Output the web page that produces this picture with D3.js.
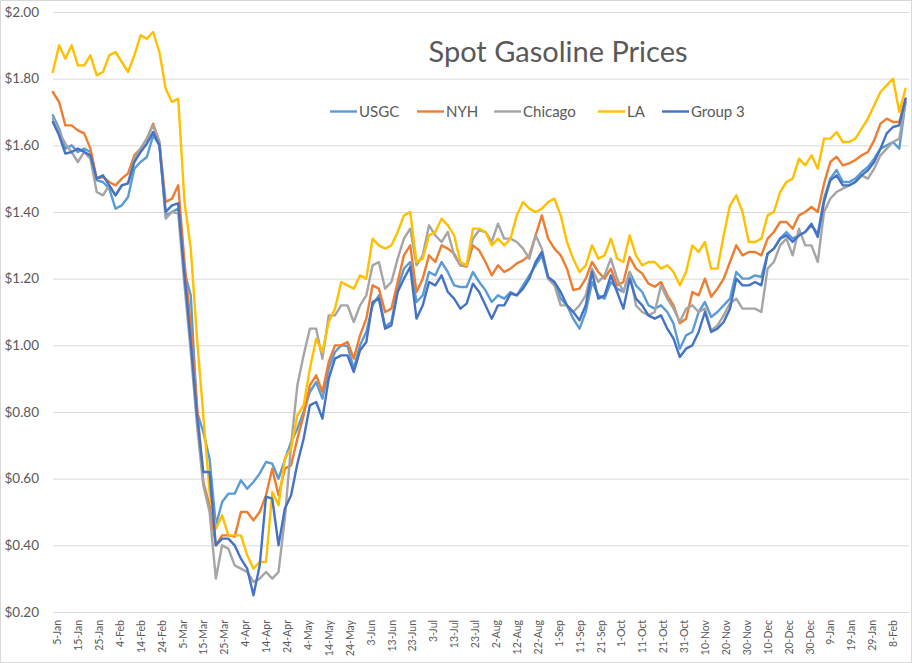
<!DOCTYPE html>
<html><head><meta charset="utf-8">
<script src="https://cdn.jsdelivr.net/npm/d3@7"></script>
<style>body{margin:0;background:#fff}svg{display:block}</style>
</head><body>
<svg id="chart" width="912" height="663"></svg>
<script>
const dates = [
"2020-01-03","2020-01-06","2020-01-09","2020-01-12","2020-01-15","2020-01-18","2020-01-21","2020-01-24","2020-01-27","2020-01-30",
"2020-02-02","2020-02-05","2020-02-08","2020-02-11","2020-02-14","2020-02-17","2020-02-20","2020-02-23","2020-02-26","2020-02-29",
"2020-03-03","2020-03-06","2020-03-09","2020-03-12","2020-03-15","2020-03-18","2020-03-21","2020-03-24","2020-03-27","2020-03-30",
"2020-04-02","2020-04-05","2020-04-08","2020-04-11","2020-04-14","2020-04-17","2020-04-20","2020-04-23","2020-04-26","2020-04-29",
"2020-05-02","2020-05-05","2020-05-08","2020-05-11","2020-05-14","2020-05-17","2020-05-20","2020-05-23","2020-05-26","2020-05-29",
"2020-06-01","2020-06-04","2020-06-07","2020-06-10","2020-06-13","2020-06-16","2020-06-19","2020-06-22","2020-06-25","2020-06-28",
"2020-07-01","2020-07-04","2020-07-07","2020-07-10","2020-07-13","2020-07-16","2020-07-19","2020-07-22","2020-07-25","2020-07-28",
"2020-07-31","2020-08-03","2020-08-06","2020-08-09","2020-08-12","2020-08-15","2020-08-18","2020-08-21","2020-08-24","2020-08-27",
"2020-08-30","2020-09-02","2020-09-05","2020-09-08","2020-09-11","2020-09-14","2020-09-17","2020-09-20","2020-09-23","2020-09-26",
"2020-09-29","2020-10-02","2020-10-05","2020-10-08","2020-10-11","2020-10-14","2020-10-17","2020-10-20","2020-10-23","2020-10-26",
"2020-10-29","2020-11-01","2020-11-04","2020-11-07","2020-11-10","2020-11-13","2020-11-16","2020-11-19","2020-11-22","2020-11-25",
"2020-11-28","2020-12-01","2020-12-04","2020-12-07","2020-12-10","2020-12-13","2020-12-16","2020-12-19","2020-12-22","2020-12-25",
"2020-12-28","2020-12-31","2021-01-03","2021-01-06","2021-01-09","2021-01-12","2021-01-15","2021-01-18","2021-01-21","2021-01-24",
"2021-01-27","2021-01-30","2021-02-02","2021-02-05","2021-02-08","2021-02-11","2021-02-14"];

const usgc = [
1.69,1.65,1.59,1.60,1.58,1.59,1.58,1.495,1.49,1.47,
1.41,1.42,1.445,1.53,1.55,1.565,1.63,1.60,1.39,1.40,
1.41,1.22,1.15,0.80,0.74,0.66,0.46,0.53,0.555,0.555,
0.595,0.57,0.59,0.616,0.65,0.645,0.60,0.656,0.71,0.75,
0.80,0.86,0.89,0.84,0.93,0.98,1.00,0.998,0.93,1.00,
1.04,1.12,1.15,1.056,1.07,1.17,1.23,1.25,1.13,1.15,
1.22,1.21,1.25,1.22,1.18,1.175,1.175,1.22,1.19,1.165,
1.13,1.15,1.14,1.16,1.15,1.18,1.21,1.24,1.27,1.20,
1.19,1.14,1.12,1.08,1.05,1.10,1.19,1.15,1.14,1.19,
1.17,1.16,1.22,1.18,1.16,1.12,1.11,1.12,1.10,1.065,
0.99,1.03,1.04,1.10,1.13,1.085,1.10,1.12,1.14,1.22,
1.20,1.20,1.21,1.205,1.275,1.29,1.32,1.34,1.32,1.33,
1.34,1.36,1.335,1.44,1.50,1.526,1.49,1.49,1.50,1.52,
1.535,1.56,1.59,1.60,1.61,1.59,1.73];

const nyh = [
1.76,1.73,1.66,1.66,1.645,1.636,1.59,1.50,1.505,1.49,
1.48,1.50,1.516,1.57,1.59,1.62,1.665,1.61,1.43,1.44,
1.48,1.25,1.06,0.82,0.59,0.52,0.40,0.43,0.43,0.426,
0.50,0.50,0.475,0.50,0.55,0.63,0.55,0.63,0.64,0.72,
0.79,0.88,0.91,0.86,0.95,1.00,1.00,1.01,0.96,1.03,
1.08,1.18,1.17,1.10,1.11,1.19,1.27,1.30,1.16,1.20,
1.27,1.25,1.30,1.29,1.275,1.24,1.236,1.30,1.285,1.25,
1.21,1.24,1.22,1.23,1.246,1.255,1.27,1.33,1.39,1.32,
1.29,1.27,1.23,1.166,1.17,1.20,1.25,1.22,1.20,1.23,
1.18,1.19,1.265,1.23,1.215,1.185,1.176,1.19,1.15,1.12,
1.066,1.08,1.16,1.15,1.20,1.146,1.17,1.20,1.25,1.30,
1.27,1.28,1.28,1.27,1.32,1.34,1.37,1.37,1.35,1.39,
1.40,1.415,1.40,1.485,1.55,1.566,1.54,1.546,1.556,1.57,
1.58,1.615,1.665,1.68,1.67,1.67,1.74];

const chicago = [
1.68,1.64,1.605,1.58,1.55,1.58,1.56,1.46,1.45,1.48,
1.45,1.48,1.486,1.56,1.59,1.62,1.66,1.61,1.38,1.40,
1.396,1.18,0.98,0.76,0.58,0.50,0.30,0.40,0.39,0.34,
0.33,0.32,0.29,0.30,0.32,0.30,0.32,0.48,0.70,0.88,
0.97,1.05,1.05,0.96,1.09,1.09,1.12,1.12,1.07,1.12,
1.15,1.24,1.25,1.17,1.19,1.26,1.32,1.35,1.24,1.27,
1.36,1.33,1.31,1.34,1.27,1.24,1.24,1.32,1.345,1.34,
1.31,1.365,1.32,1.32,1.31,1.29,1.26,1.33,1.29,1.20,
1.18,1.12,1.12,1.10,1.12,1.15,1.23,1.19,1.21,1.26,
1.20,1.16,1.22,1.12,1.10,1.09,1.10,1.18,1.14,1.11,
1.07,1.11,1.12,1.10,1.11,1.045,1.06,1.09,1.126,1.14,
1.11,1.11,1.11,1.10,1.23,1.25,1.30,1.32,1.27,1.35,
1.30,1.30,1.25,1.40,1.44,1.46,1.47,1.48,1.49,1.51,
1.50,1.53,1.57,1.59,1.61,1.62,1.73];

const la = [
1.82,1.90,1.86,1.90,1.84,1.84,1.87,1.81,1.82,1.87,
1.88,1.85,1.82,1.87,1.93,1.92,1.94,1.88,1.77,1.73,
1.74,1.43,1.29,1.02,0.79,0.56,0.45,0.49,0.43,0.43,
0.43,0.37,0.33,0.35,0.35,0.56,0.52,0.66,0.69,0.79,
0.82,0.93,1.02,0.98,1.07,1.11,1.19,1.18,1.17,1.21,
1.20,1.32,1.30,1.29,1.30,1.34,1.39,1.40,1.25,1.26,
1.33,1.34,1.38,1.36,1.33,1.25,1.24,1.35,1.35,1.34,
1.30,1.32,1.30,1.32,1.39,1.43,1.41,1.40,1.41,1.43,
1.44,1.39,1.31,1.26,1.22,1.24,1.30,1.26,1.27,1.32,
1.26,1.25,1.33,1.27,1.24,1.25,1.25,1.23,1.24,1.22,
1.18,1.22,1.30,1.28,1.31,1.23,1.23,1.33,1.42,1.45,
1.40,1.31,1.31,1.32,1.39,1.40,1.46,1.49,1.50,1.56,
1.54,1.57,1.53,1.62,1.62,1.64,1.61,1.61,1.62,1.65,
1.68,1.72,1.76,1.78,1.80,1.70,1.77];

const group3 = [
1.67,1.63,1.575,1.58,1.59,1.58,1.57,1.50,1.51,1.48,
1.45,1.48,1.486,1.55,1.58,1.605,1.64,1.60,1.40,1.42,
1.426,1.21,1.01,0.79,0.62,0.62,0.40,0.42,0.42,0.40,
0.36,0.33,0.25,0.34,0.546,0.54,0.40,0.51,0.55,0.645,
0.72,0.82,0.83,0.78,0.90,0.96,0.97,0.97,0.92,0.985,
1.01,1.13,1.14,1.05,1.06,1.16,1.20,1.235,1.08,1.12,
1.19,1.18,1.21,1.16,1.14,1.11,1.125,1.185,1.16,1.12,
1.08,1.12,1.12,1.155,1.15,1.17,1.20,1.25,1.28,1.205,
1.19,1.16,1.12,1.10,1.075,1.12,1.22,1.14,1.15,1.21,
1.16,1.11,1.20,1.14,1.12,1.09,1.08,1.09,1.05,1.02,
0.965,0.99,1.00,1.04,1.10,1.04,1.05,1.07,1.11,1.20,
1.18,1.18,1.19,1.18,1.275,1.29,1.32,1.33,1.31,1.33,
1.34,1.365,1.325,1.43,1.495,1.51,1.48,1.48,1.49,1.51,
1.525,1.55,1.59,1.636,1.655,1.66,1.74];

const tickDates = [
"2020-01-05","2020-01-15","2020-01-25","2020-02-04","2020-02-14","2020-02-24","2020-03-05","2020-03-15","2020-03-25","2020-04-04",
"2020-04-14","2020-04-24","2020-05-04","2020-05-14","2020-05-24","2020-06-03","2020-06-13","2020-06-23","2020-07-03","2020-07-13",
"2020-07-23","2020-08-02","2020-08-12","2020-08-22","2020-09-01","2020-09-11","2020-09-21","2020-10-01","2020-10-11","2020-10-21",
"2020-10-31","2020-11-10","2020-11-20","2020-11-30","2020-12-10","2020-12-20","2020-12-30","2021-01-09","2021-01-19","2021-01-29",
"2021-02-08"];
const yTicks = [0.2,0.4,0.6,0.8,1.0,1.2,1.4,1.6,1.8,2.0];

const seriesNames = ["USGC","NYH","Chicago","LA","Group 3"];
const seriesValues = [usgc, nyh, chicago, la, group3];
const seriesColors = ["#5B9BD5","#ED7D31","#A5A5A5","#FFC000","#4472C4"];
const title = "Spot Gasoline Prices";

const parse = d3.timeParse("%Y-%m-%d");
const fmtX = d3.timeFormat("%-d-%b");
const font = "Lato, 'Open Sans', sans-serif";
const textColor = "#595959";

const svg = d3.select("#chart");
svg.append("rect").attr("x",0.5).attr("y",0.5).attr("width",911).attr("height",662)
  .attr("fill","#fff").attr("stroke","#d9d9d9");

const plotL = 53, plotR = 909;
const x = d3.scaleTime().domain([parse("2020-01-05"), parse("2021-02-08")]).range([57, 893]);
const y = d3.scaleLinear().domain([0.2, 2.0]).range([612, 12]);

// gridlines
const gy = svg.append("g").attr("transform",`translate(${plotL},0)`)
  .call(d3.axisLeft(y).tickValues(yTicks).tickSize(-(plotR-plotL)).tickFormat(""));
gy.select(".domain").remove();
gy.selectAll("line").attr("stroke","#d9d9d9").attr("stroke-width",1);

// y labels
const yl = svg.append("g").attr("transform",`translate(${plotL},0)`)
  .call(d3.axisLeft(y).tickValues(yTicks).tickSize(0).tickPadding(14).tickFormat(d3.format("$.2f")));
yl.select(".domain").remove();
yl.selectAll("text").attr("fill",textColor).style("font-family",font).style("font-size","13.5px");

// x labels
const xa = svg.append("g").attr("transform",`translate(0,612)`)
  .call(d3.axisBottom(x).tickValues(tickDates.map(parse)).tickSize(0).tickFormat(fmtX));
xa.select(".domain").remove();
xa.selectAll("text")
  .attr("fill",textColor).style("font-family",font).style("font-size","10.5px")
  .attr("text-anchor","end").attr("dy","0.35em").attr("dx","0")
  .attr("transform","translate(0,8) rotate(-90)").attr("y",0).attr("x",0);

// lines
const line = d3.line().x((d,i)=>x(parse(dates[i]))).y(d=>y(d));
seriesValues.forEach((vals,k)=>{
  svg.append("path").datum(vals).attr("d",line)
    .attr("fill","none").attr("stroke",seriesColors[k]).attr("stroke-width",2.4)
    .attr("stroke-linejoin","round").attr("stroke-linecap","round");
});

// title
svg.append("text").attr("x",558).attr("y",62).attr("text-anchor","middle")
  .attr("fill",textColor).style("font-family",font).style("font-size","29px").text(title);

// legend
const legX = [330, 417, 494, 598, 662];
const lg = svg.append("g");
seriesNames.forEach((n,k)=>{
  lg.append("line").attr("x1",legX[k]).attr("x2",legX[k]+27).attr("y1",111.5).attr("y2",111.5)
    .attr("stroke",seriesColors[k]).attr("stroke-width",2.4);
  lg.append("text").attr("x",legX[k]+29).attr("y",111.5).attr("dy","0.35em")
    .attr("fill",textColor).style("font-family",font).style("font-size","15px").text(n);
});
</script>
</body></html>
